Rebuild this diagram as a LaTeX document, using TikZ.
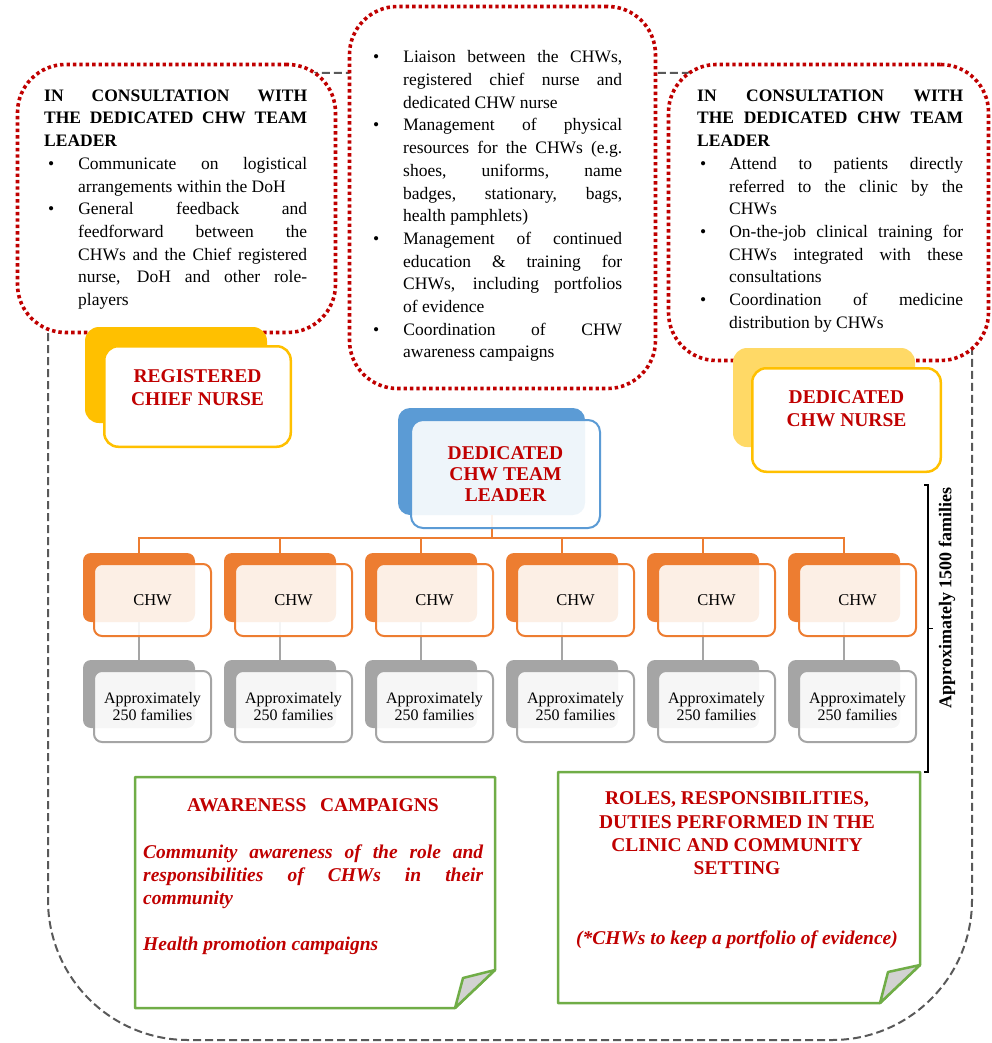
\documentclass[tikz,border=0pt]{standalone}
\usepackage{fontspec}
\setmainfont{Liberation Serif}
\usepackage{enumitem}
\usepackage{tikz}

\definecolor{dotred}{HTML}{C00000}
\definecolor{txtred}{HTML}{C00000}
\definecolor{ygold}{HTML}{FFC000}
\definecolor{ylight}{HTML}{FFD966}
\definecolor{leadblue}{HTML}{5B9BD5}
\definecolor{chworange}{HTML}{ED7D31}
\definecolor{famgrey}{HTML}{A5A5A5}
\definecolor{notegreen}{HTML}{70AD47}
\definecolor{framegrey}{HTML}{595959}

\tolerance=9999
\hbadness=10000
\hyphenpenalty=10000
\exhyphenpenalty=10000

\newlist{dotlist}{itemize}{1}
\setlist[dotlist]{nosep, label=\textbullet, labelwidth=6pt, leftmargin=!, align=left}

\tikzset{
	outerframe/.style={draw=framegrey, line width=2pt, dash pattern=on 8pt off 4pt, rounded corners=140pt},
	dotbox/.style={draw=dotred, fill=white, line width=3.6pt, dash pattern=on 3.4pt off 3pt, rounded corners=48pt, inner sep=0pt},
	bodytext/.style={font=\fontsize{17.5}{22.7}\selectfont, align=justify, inner sep=0pt},
	redtitle/.style={font=\fontsize{19.5}{23.3}\selectfont\bfseries, text=txtred, align=center, inner sep=0pt},
	redbody/.style={font=\fontsize{19.5}{22.8}\selectfont\bfseries\itshape, text=txtred, align=justify, inner sep=0pt},
	nurseback/.style={fill=#1, rounded corners=14pt, inner sep=0pt},
	nursefront/.style={draw=ygold, fill=white, line width=2.5pt, rounded corners=14pt, inner sep=0pt},
	leadback/.style={fill=leadblue, rounded corners=12pt, inner sep=0pt, minimum width=187pt, minimum height=107pt},
	leadfront/.style={draw=leadblue, fill=white, fill opacity=0.9, text opacity=1, line width=2pt, rounded corners=12pt, inner sep=0pt, minimum width=189pt, minimum height=108pt},
	chwback/.style={fill=chworange, rounded corners=8pt, inner sep=0pt, minimum width=112pt, minimum height=69pt},
	chwfront/.style={draw=chworange, fill=white, fill opacity=0.88, text opacity=1, line width=2pt, rounded corners=8pt, inner sep=0pt, minimum width=117pt, minimum height=72pt, font=\fontsize{16.5}{19}\selectfont},
	famback/.style={fill=famgrey, rounded corners=8pt, inner sep=0pt, minimum width=112pt, minimum height=68pt},
	famfront/.style={draw=famgrey, fill=white, fill opacity=0.9, text opacity=1, line width=2pt, rounded corners=8pt, inner sep=0pt, minimum width=117pt, minimum height=71pt, align=center, font=\fontsize{16}{17}\selectfont},
	busline/.style={draw=chworange, line width=2pt},
	famline/.style={draw=famgrey, line width=2.5pt},
	bracket/.style={draw=black, line width=1.1pt},
	notebox/.style={draw=notegreen, fill=white, line width=2.5pt, line join=round},
	notefold/.style={draw=notegreen, fill=gray!35, line width=2.5pt, line join=round}
}

\begin{document}
\begin{tikzpicture}[x=1pt,y=-1pt]
	\useasboundingbox (0,0) rectangle (992,1043);

	% Outer dashed frame
	\draw[outerframe] (48,73) rectangle (972,1040);

	% Consultation box, left
	\node[dotbox, minimum width=318pt, minimum height=268pt] (tlbox) at (176.5,198.5) {};
	\node[bodytext, text width=263pt, anchor=north west] (tltext) at (44,89.5) {%
		\textbf{IN CONSULTATION WITH\linebreak THE DEDICATED CHW TEAM\linebreak LEADER}\par
		\begin{dotlist}[labelindent=4pt, labelsep=24pt]
			\item Communicate on logistical\linebreak arrangements within the DoH
			\item General feedback and\linebreak feedforward between the\linebreak CHWs and the Chief registered\linebreak nurse, DoH and other role-\linebreak{}players
		\end{dotlist}};

	% Team leader duties, middle
	\node[dotbox, minimum width=306pt, minimum height=382pt] (tmbox) at (502.5,197.5) {};
	\node[bodytext, text width=249pt, anchor=north west] (tmtext) at (373,40) {%
		\begin{dotlist}[labelindent=0pt, labelsep=24pt]
			\item Liaison between the CHWs,\linebreak registered chief nurse and\linebreak dedicated CHW nurse
			\item Management of physical\linebreak resources for the CHWs (e.g.\linebreak shoes, uniforms, name\linebreak badges, stationary, bags,\linebreak health pamphlets)
			\item Management of continued\linebreak education \& training for\linebreak CHWs, including portfolios\linebreak of evidence
			\item Coordination of CHW\linebreak awareness campaigns
		\end{dotlist}};

	% Consultation box, right
	\node[dotbox, minimum width=320pt, minimum height=296pt] (trbox) at (828.5,212.5) {};
	\node[bodytext, text width=266pt, anchor=north west] (trtext) at (697,89.5) {%
		\textbf{IN CONSULTATION WITH\linebreak THE DEDICATED CHW TEAM\linebreak LEADER}\par
		\begin{dotlist}[labelindent=3pt, labelsep=23pt]
			\item Attend to patients directly\linebreak referred to the clinic by the\linebreak CHWs
			\item On-the-job clinical training for\linebreak CHWs integrated with these\linebreak consultations
			\item Coordination of medicine\linebreak distribution by CHWs
		\end{dotlist}};

	% Registered chief nurse
	\node[nurseback=ygold, minimum width=182pt, minimum height=96pt] (chfback) at (176,375) {};
	\node[nursefront, minimum width=186.5pt, minimum height=100.5pt] (chf) at (197.5,396.5) {};
	\node[redtitle] (chflbl) at ([yshift=9pt]chf.center) {REGISTERED\\CHIEF NURSE};

	% Dedicated CHW nurse
	\node[nurseback=ylight, minimum width=182pt, minimum height=99pt] (dnback) at (824,397.5) {};
	\node[nursefront, minimum width=188.5pt, minimum height=103.5pt] (dn) at (846.5,420) {};
	\node[redtitle] (dnlbl) at ([yshift=11.5pt]dn.center) {DEDICATED\\CHW NURSE};

	% Team leader and CHW hierarchy
	\node[leadback] (ldrback) at (491.5,461.5) {};
	\foreach \i in {0,...,5} {
		\node[chwback] (chwb\i) at ({139+141*\i},587.5) {};
		\node[famback] (famb\i) at ({139+141*\i},694) {};
	}
	\foreach \i in {0,...,5} {
		\draw[busline] (ldrback.south) -- ++(0,23) -| (chwb\i.north);
		\draw[famline] (chwb\i.south) -- (famb\i.north);
	}
	\node[leadfront, redtitle, font=\fontsize{19.5}{21}\selectfont\bfseries] (ldr) at (505.5,474) {DEDICATED\\CHW TEAM\\LEADER};
	\foreach \i in {0,...,5} {
		\node[chwfront] (chw\i) at ({152.5+141*\i},600) {CHW};
		\node[famfront] (fam\i) at ({152.5+141*\i},706.5) {Approximately\\250 families};
	}

	% Bracket for all families
	\coordinate (brtop) at (924,485);
	\coordinate (brbot) at (924,772);
	\coordinate (brmid) at (928,628.5);
	\draw[bracket] (brtop) -- ++(4,0) |- (brbot);
	\draw[bracket] (brmid) -- ++(5,0);
	\node[rotate=90, inner sep=0pt, font=\fontsize{18}{20}\selectfont\bfseries] (brlbl) at (947,598) {Approximately 1500 families};

	% Awareness campaigns note
	\draw[notebox] (135,777) -- (495,777) -- (495,970) -- (455,1008) -- (135,1008) -- cycle;
	\draw[notefold] (495,970) -- (463,978) -- (455,1008) -- cycle;
	\node[redtitle] (awtitle) at (313,805) {AWARENESS\hspace{0.45em} CAMPAIGNS};
	\node[redbody, text width=340pt, anchor=north west] (awtext) at (143,845) {%
		Community awareness of the role and\linebreak responsibilities of CHWs in their\linebreak community\par
		\vspace{22.8pt}
		Health promotion campaigns};

	% Roles note
	\draw[notebox] (558,772) -- (920,772) -- (920,965) -- (880,1003) -- (558,1003) -- cycle;
	\draw[notefold] (920,965) -- (888,972) -- (880,1003) -- cycle;
	\node[redtitle] (rltitle) at (737,833.5) {ROLES, RESPONSIBILITIES,\\DUTIES PERFORMED IN THE\\CLINIC AND COMMUNITY\\SETTING};
	\node[redbody] (rlnote) at (737,940) {(*CHWs to keep a portfolio of evidence)};

\end{tikzpicture}
\end{document}
